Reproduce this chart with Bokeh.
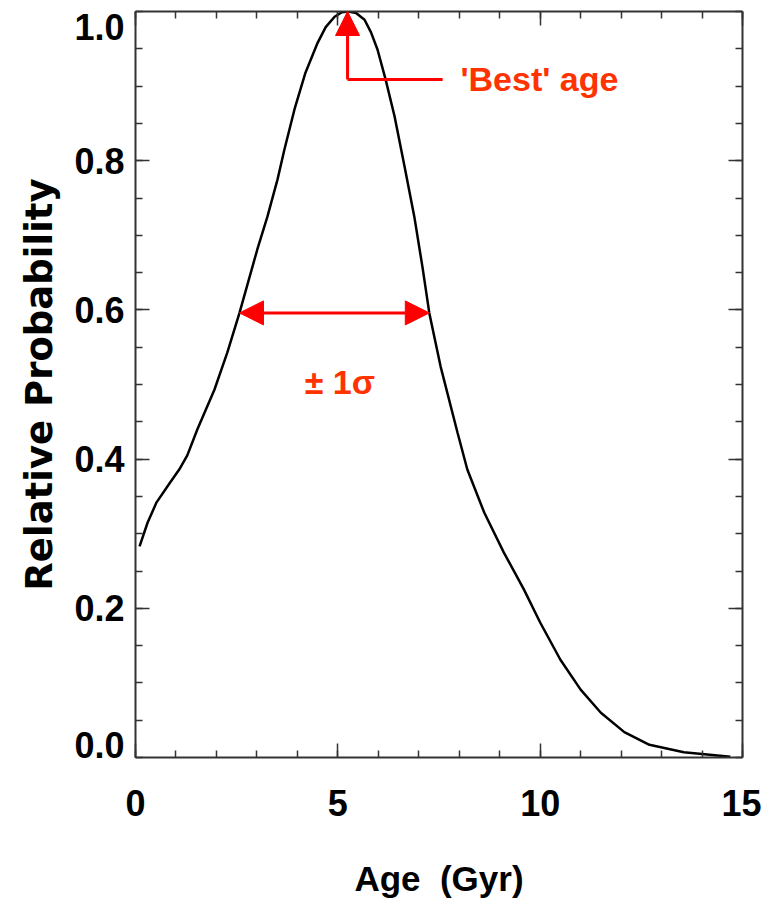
from bokeh.plotting import figure
from bokeh.models import (LinearAxis, FixedTicker, Label, Arrow, NormalHead, Range1d,
                          ColumnDataSource, CustomLabelingPolicy)
from bokeh.core.properties import value
from bokeh.embed import file_html
from bokeh.resources import INLINE

# ---- data ----
age = [0.1, 0.3, 0.52, 0.86, 1.08, 1.28, 1.53, 1.95, 2.27, 2.57, 3.01, 3.26, 3.51,
       3.68, 3.93, 4.2, 4.5, 4.7, 4.92, 5.1, 5.26, 5.45, 5.66, 5.82, 5.98, 6.18, 6.4,
       6.65, 6.89, 7.09, 7.26, 7.54, 7.96, 8.2, 8.62, 9.1, 9.6, 10.0, 10.5, 11.0,
       11.5, 12.08, 12.7, 13.55, 14.7]
prob = [0.283, 0.315, 0.342, 0.369, 0.386, 0.405, 0.44, 0.493, 0.543, 0.596, 0.681,
        0.725, 0.775, 0.815, 0.869, 0.918, 0.958, 0.979, 0.993, 0.999, 1.0, 0.998,
        0.989, 0.972, 0.949, 0.909, 0.86, 0.792, 0.725, 0.658, 0.596, 0.524, 0.435,
        0.386, 0.328, 0.275, 0.225, 0.181, 0.131, 0.091, 0.06, 0.034, 0.017, 0.007,
        0.001]

x_major = [0, 5, 10, 15]
x_minor = list(range(0, 16))
y_major = [0.2, 0.4, 0.6, 0.8]
y_minor = [round(0.05 * i, 2) for i in range(0, 21)]
y_end_values = [0.0, 1.0]
y_end_texts = ["0.0", "1.0"]

best_age = 5.24
best_text_y = 0.909
best_text_x = 8.03
best_line_end = 7.59
sigma_lo = 2.57
sigma_hi = 7.26
sigma_level = 0.596
sigma_text_x = 5.05
sigma_text_y = 0.503

FONT = "Liberation Sans"
ANNOT = "#ff3300"
ARROW = "#ff0000"
AXC = "#333333"

p = figure(frame_width=607, frame_height=746, output_backend="svg",
           toolbar_location=None,
           x_range=Range1d(0, 15), y_range=Range1d(0, 1),
           min_border_left=135, min_border_right=19, min_border_top=11,
           min_border_bottom=20, x_axis_location=None, y_axis_location=None)
p.grid.visible = False
p.outline_line_color = None
p.background_fill_color = "white"
p.border_fill_color = "white"

no_labels = CustomLabelingPolicy(
    code="const n = indices.size; for (let i = 0; i < n; i++) { indices.unset(i) } return indices")


def style(ax, labels=True):
    ax.axis_line_color = AXC
    ax.axis_line_width = 2
    ax.major_tick_line_color = AXC
    ax.minor_tick_line_color = AXC
    ax.major_tick_line_width = 1.5
    ax.minor_tick_line_width = 1.5
    ax.major_tick_in = 14
    ax.major_tick_out = 0
    ax.minor_tick_in = 7
    ax.minor_tick_out = 0
    ax.major_label_text_font = FONT
    ax.major_label_text_font_style = "bold"
    ax.major_label_text_font_size = "36px" if labels else "0px"
    ax.major_label_text_color = "black"
    ax.axis_label_text_font_style = "bold"
    ax.axis_label_text_color = "black"
    if not labels:
        ax.major_label_policy = no_labels
        ax.major_label_standoff = 0


xb = LinearAxis(ticker=FixedTicker(ticks=x_major, minor_ticks=x_minor))
style(xb)
xb.major_label_standoff = 32
xb.axis_label = "Age\u00a0 (Gyr)"
xb.axis_label_text_font = FONT
xb.axis_label_text_font_size = "35px"
xb.axis_label_standoff = 40
p.add_layout(xb, "below")

xt = LinearAxis(ticker=FixedTicker(ticks=x_major, minor_ticks=x_minor))
style(xt, labels=False)
p.add_layout(xt, "above")

yl = LinearAxis(ticker=FixedTicker(ticks=y_major, minor_ticks=y_minor))
style(yl)
yl.major_label_standoff = 11
yl.axis_label = "Relative Probability"
yl.axis_label_text_font = "DejaVu Sans"
yl.axis_label_text_font_size = "37px"
yl.axis_label_standoff = 10
p.add_layout(yl, "left")

yr = LinearAxis(ticker=FixedTicker(ticks=y_major, minor_ticks=y_minor))
style(yr, labels=False)
p.add_layout(yr, "right")

# end labels of the y axis, shifted inward as in the original
end_src = ColumnDataSource(dict(x=[0, 0], y=y_end_values, text=y_end_texts,
                                dy=[-13, 15]))
p.text(x="x", y="y", text="text", source=end_src, x_offset=-11, y_offset="dy",
       text_align="right", text_baseline="middle", text_font=value(FONT),
       text_font_style="bold", text_font_size="36px", text_color="black",
       level="overlay")

p.line(age, prob, line_color="black", line_width=2.5)

# 'Best' age arrow
p.add_layout(Arrow(x_start=best_age, y_start=best_text_y, x_end=best_age, y_end=1.0,
                   line_color=ARROW, line_width=3,
                   end=NormalHead(size=24, fill_color=ARROW, line_color=ARROW)))
p.add_layout(Arrow(x_start=best_age, y_start=best_text_y, x_end=best_line_end,
                   y_end=best_text_y, line_color=ARROW, line_width=3, end=None))
p.add_layout(Label(x=best_text_x, y=best_text_y, text="'Best' age", text_align="left",
                   text_baseline="middle", text_font=FONT, text_font_style="bold",
                   text_font_size="34px", text_color=ANNOT))

# sigma arrow
p.add_layout(Arrow(x_start=sigma_lo, y_start=sigma_level, x_end=sigma_hi,
                   y_end=sigma_level, line_color=ARROW, line_width=3,
                   start=NormalHead(size=24, fill_color=ARROW, line_color=ARROW),
                   end=NormalHead(size=24, fill_color=ARROW, line_color=ARROW)))
p.add_layout(Label(x=sigma_text_x, y=sigma_text_y, text="± 1σ", text_align="center",
                   text_baseline="middle", text_font=FONT, text_font_style="bold",
                   text_font_size="34px", text_color=ANNOT))

open("out.html", "w").write(file_html(p, INLINE))
